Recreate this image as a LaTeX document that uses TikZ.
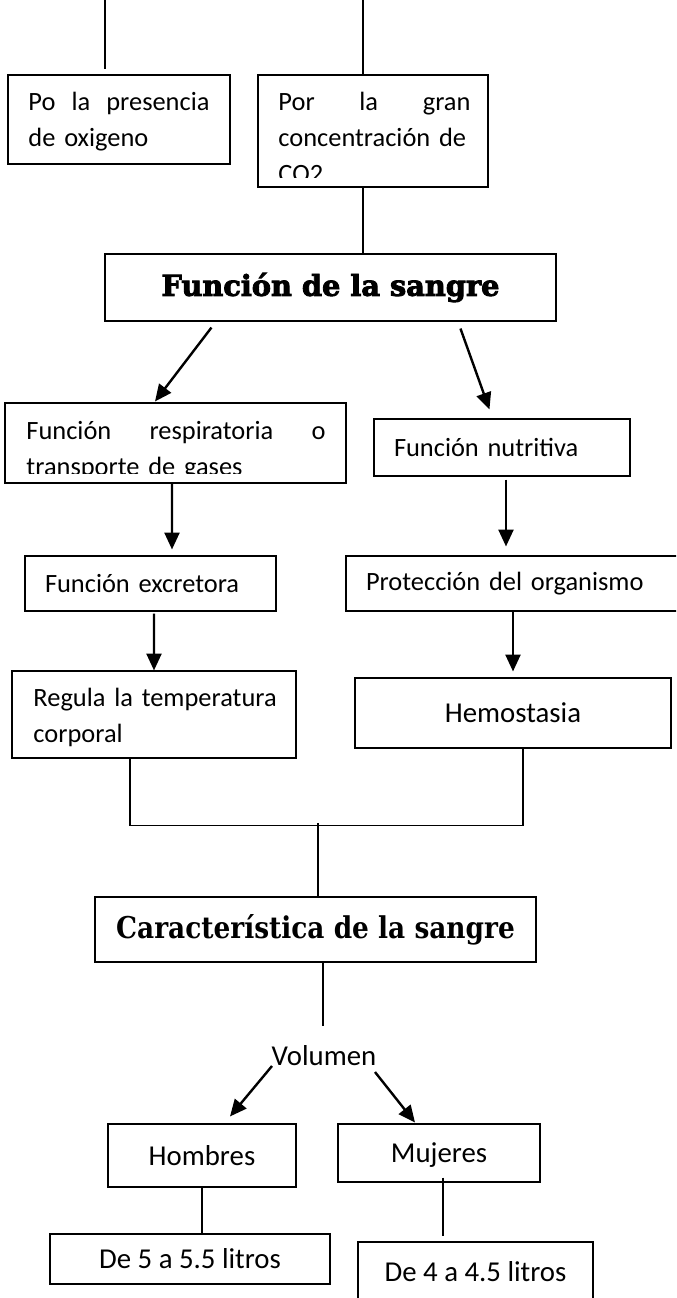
\documentclass[tikz,border=0pt]{standalone}
\usepackage{fontspec}
\setmainfont{Carlito}
\newfontfamily\headfont{DejaVu Serif}[FakeStretch=0.88]
\newfontfamily\heavyfont{DejaVu Serif Bold}[FakeBold=3]
\setlength{\parindent}{0pt}
\usetikzlibrary{arrows.meta}
\tikzset{
        >={Triangle[length=7pt, width=6.2pt]}, % filled heads as in the sheet
        box/.style={draw, line width=0.45pt, inner sep=0pt, font=\fontsize{11}{15}\selectfont}, % every frame
        boxsize/.style 2 args={minimum width=#1*0.41667pt, minimum height=#2*0.41667pt}, % sizes in pixels
        lbox/.style={box, align=left, inner xsep=8.33pt, text width=#1}, % left set text
        txt/.style={anchor=north west, inner sep=0pt, align=left, text width=#1, font=\fontsize{11}{15}\selectfont},
        big/.style={font=\fontsize{12}{15}\selectfont, text height=8pt, text depth=0pt},
        arr/.style={->, line width=1pt},
        lnk/.style={line width=0.45pt},
}

\begin{document}
\begin{tikzpicture}[x=0.41667pt, y=-0.41667pt]
      \useasboundingbox (0,0) rectangle (676,1298);
      \clip (0,0) rectangle (676,1298);
      % causes
      \node[box, boxsize={222}{89}] (oxi) at (119,119.5) {};
      \node[txt=75.4pt] (oxit) at (28,84.8) {\strut Po\hfill la\hfill presencia\\de oxigeno};
      \node[box, boxsize={230}{112}] (co2) at (373,131) {};
      \begin{scope}
         \clip (co2.north west) rectangle ([shift={(0,-10)}]co2.south east);
         \node[txt=80pt] (co2t) at (278,84.8) {\strut Por\hfill la\hfill gran\\concentración de\\CO2};
      \end{scope}
      \coordinate (s1) at (105,0);
      \coordinate (s2) at (363,0);
      \draw[lnk] (s1) -- ++(0,69);
      \draw[lnk] (s2) -- (s2 |- co2.north);
      \node[box, font=\heavyfont\fontsize{12}{14}\selectfont, boxsize={451}{67}] (fun) at (330.5,287.5) {Función de la sangre};
      \draw[lnk] (s2 |- co2.south) -- (s2 |- fun.north);
      % functions
      \node[box, boxsize={341}{80}] (resp) at (175.5,443) {};
      \begin{scope}
         \clip (resp.north west) rectangle ([shift={(0,-10)}]resp.south east);
         \node[txt=124.6pt] (respt) at (26,414.1) {\strut Función\hfill respiratoria\hfill o\\transporte de gases};
      \end{scope}
      \node[lbox=90pt, boxsize={256}{57}] (nut) at (502,447.5) {Función nutritiva};
      \node[lbox=87.9pt, boxsize={251}{55}] (exc) at (150.5,583.5) {Función excretora};
      \node[lbox=122.5pt, boxsize={334}{55}] (pro) at (513,583.5) {Protección del organismo};
      \node[box, boxsize={284}{87}] (reg) at (154,714.5) {};
      \node[txt=109.6pt] (regt) at (33,680.8) {\strut Regula la temperatura\\corporal};
      \node[box, big, boxsize={316}{70}] (hem) at (513,713) {Hemostasia};
      \draw[arr] ([shift={(107,6)}]fun.south west) -- ([shift={(-20.5,-1)}]resp.north);
      \draw[arr] ([shift={(356,7)}]fun.south west) -- ([shift={(116,-9)}]nut.north west);
      \draw[arr] ([shift={(-3.5,0)}]resp.south) -- ([shift={(21.5,-6)}]exc.north);
      \draw[arr] ([shift={(4,3)}]nut.south) -- ([shift={(-7,-9)}]pro.north);
      \draw[arr] ([shift={(3.5,2)}]exc.south) -- (reg.north);
      \draw[arr] (pro.south) -- ([shift={(0,-6)}]hem.north);
      % features
      \draw[lnk] ([shift={(-24,0)}]reg.south) -- ++(0,67) -| ([shift={(10,0)}]hem.south);
      \coordinate (bus) at (318,823);
      \node[box, font=\headfont\bfseries\fontsize{12.5}{14}\selectfont, boxsize={441}{65}] (car) at (315.5,929.5) {Característica de la sangre};
      \draw[lnk] (bus) -- (bus |- car.north);
      \coordinate (vtop) at (323,1026);
      \draw[lnk] (vtop |- car.south) -- (vtop);
      \node[big, inner sep=0pt] (vol) at (324,1056) {Volumen};
      \node[box, big, boxsize={188}{63}] (hom) at (202,1155.5) {Hombres};
      \node[box, big, boxsize={202}{58}] (muj) at (439,1153) {Mujeres};
      \draw[arr] ([shift={(-52,10)}]vol.center) -- ([shift={(28,-7)}]hom.north);
      \draw[arr] ([shift={(51,16)}]vol.center) -- ([shift={(-24,-1)}]muj.north);
      \node[box, big, boxsize={280}{50}] (l5) at (190,1259) {De 5 a 5.5 litros};
      \node[box, big, boxsize={235}{60}] (l4) at (475.5,1272) {De 4 a 4.5 litros};
      \draw[lnk] (hom.south) -- (hom.south |- l5.north);
      \draw[lnk] ([shift={(4,-5)}]muj.south) -- ([shift={(-32.5,-5)}]l4.north);
\end{tikzpicture}
\end{document}
